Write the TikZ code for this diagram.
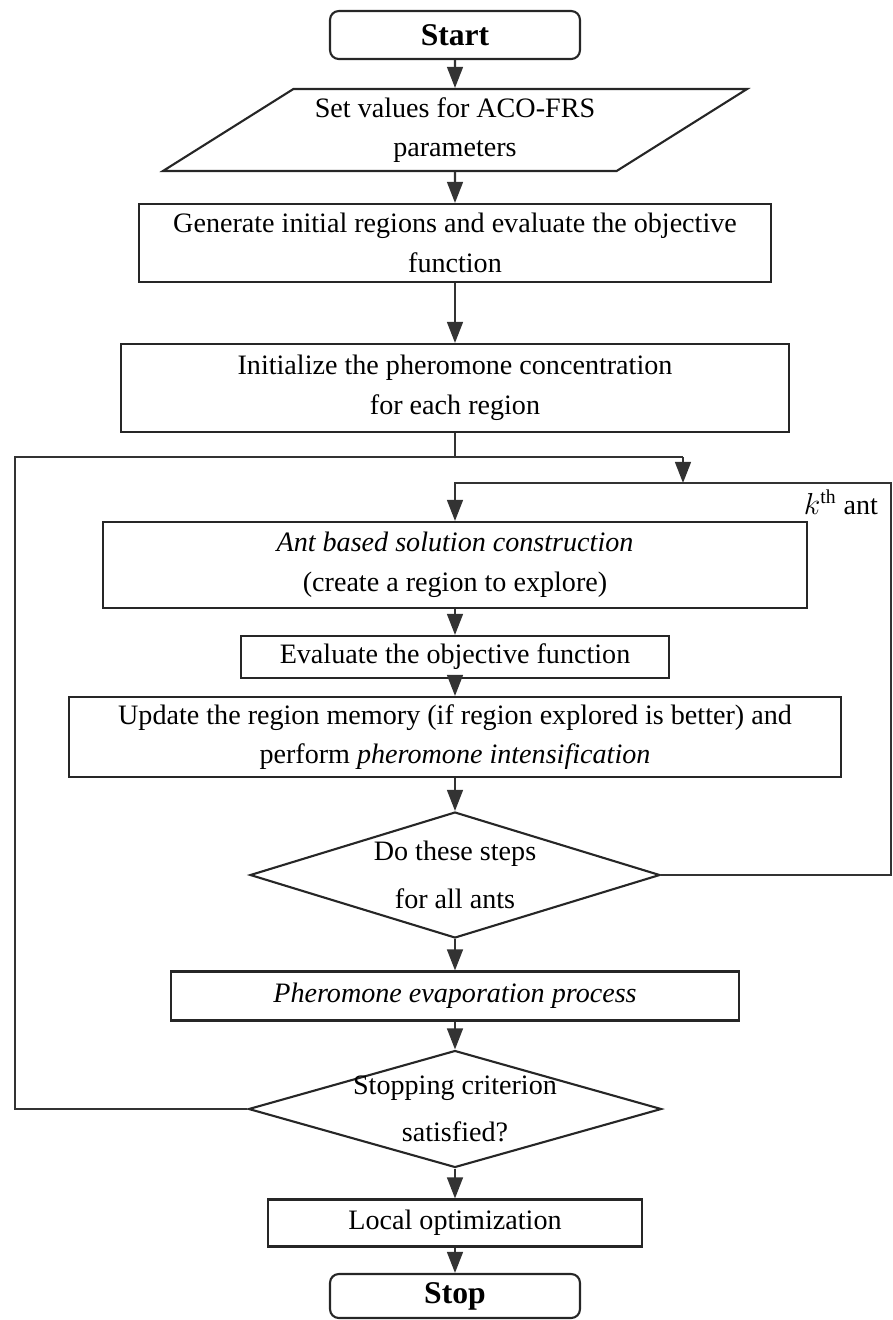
\documentclass[tikz,border=0pt]{standalone}
\usepackage{fontspec}
\setmainfont{Liberation Serif}
\usepackage{tikz}
\usetikzlibrary{arrows.meta, positioning, shapes.geometric, shapes.misc}

\begin{document}
\begin{tikzpicture}[
    x=0.02cm, y=-0.02cm,
    font=\fontsize{16}{22.5}\selectfont,
    terminal/.style={draw=black!85, line width=1.2pt, rounded corners=5pt,
        minimum width=5.0cm, align=center, font=\fontsize{18}{22}\selectfont\bfseries},
    procbox/.style={draw=black!85, line width=1.2pt, align=center, inner sep=2pt},
    iobox/.style={draw=black!85, line width=1.2pt, trapezium, trapezium left angle=30,
        trapezium right angle=150, trapezium stretches=true, align=center, inner sep=0pt},
    decision/.style={draw=black!85, line width=1.2pt, diamond, align=center, inner sep=0pt,
        font=\fontsize{16}{27}\selectfont},
    line/.style={draw=black!80, line width=1.2pt},
    arrow/.style={line, -{Triangle[length=12pt, width=9pt]}}
]
\useasboundingbox (0,0) rectangle (893,1320);

\node[terminal, minimum height=0.96cm] (start) at (455,35) {Start};
\node[iobox, minimum width=11.7cm, minimum height=1.64cm] (params) at (455,130) {Set values for ACO-FRS\\parameters};
\node[procbox, minimum width=12.66cm, minimum height=1.56cm] (gen) at (455,243) {Generate initial regions and evaluate the objective\\function};
\node[procbox, minimum width=13.38cm, minimum height=1.76cm] (init) at (455,388) {Initialize the pheromone concentration\\for each region};
\node[procbox, minimum width=14.08cm, minimum height=1.72cm] (ant) at (455,565) {\textit{Ant based solution construction}\\(create a region to explore)};
\node[procbox, minimum width=8.56cm, minimum height=0.84cm] (eval) at (455,657) {Evaluate the objective function};
\node[procbox, minimum width=15.44cm, minimum height=1.6cm] (update) at (455,737) {Update the region memory (if region explored is better) and\\perform \textit{pheromone intensification}};
\node[decision, aspect=3.25, minimum width=8.2cm, minimum height=2.52cm] (allants) at (455,875) {Do these steps\\for all ants};
\node[procbox, minimum width=11.36cm, minimum height=0.98cm] (evap) at (455,996) {\textit{Pheromone evaporation process}};
\node[decision, aspect=3.5, inner sep=-5pt, minimum width=8.26cm, minimum height=2.34cm] (stopcrit) at (455,1109) {Stopping criterion\\satisfied?};
\node[procbox, minimum width=7.48cm, minimum height=0.94cm] (local) at (455,1223) {Local optimization};
\node[terminal, minimum height=0.88cm] (stop) at (455,1296) {Stop};

\node[anchor=north east, inner sep=1pt] (kth) at (880,488) {$k^{\mathrm{th}}$ ant};

\coordinate (join) at (455,457);
\coordinate (loopL) at (15,457);
\coordinate (loopR) at (683,457);
\coordinate (merge) at (683,483);
\coordinate (kthR) at (891,483);
\coordinate (kthL) at (455,483);

\draw[arrow] (start) -- (params);
\draw[arrow] (params) -- (gen);
\draw[arrow] (gen) -- (init);
\draw[line] (init.south) -- (join);
\draw[line] (stopcrit.west) -| (loopL) -- (loopR);
\draw[arrow] (loopR) -- (merge);
\draw[arrow] (allants.east) -| (kthR) -- (kthL) -- (ant.north);
\draw[arrow] (ant) -- (eval);
\draw[arrow] (eval) -- (update);
\draw[arrow] (update) -- (allants);
\draw[arrow] (allants) -- (evap);
\draw[arrow] (evap) -- (stopcrit);
\draw[arrow] (stopcrit) -- (local);
\draw[arrow] (local) -- (stop);
\end{tikzpicture}
\end{document}
